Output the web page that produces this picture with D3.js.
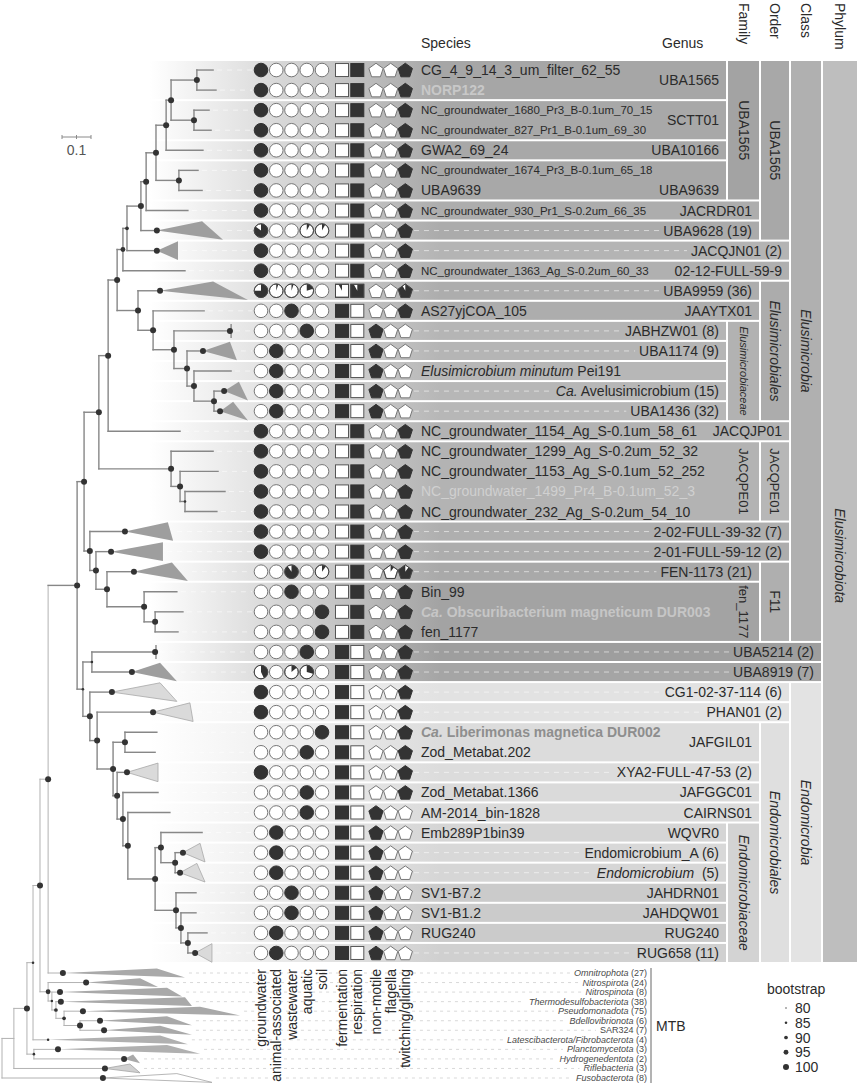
<!DOCTYPE html>
<html><head><meta charset="utf-8">
<script src="https://cdn.jsdelivr.net/npm/d3@7"></script>
<style>body{margin:0;background:#fff}svg{display:block;font-family:"Liberation Sans",Arial,sans-serif}</style>
</head><body><svg id="c" width="858" height="1090"></svg>
<script>
// ---------------- DATA ----------------
const species = [
 "CG_4_9_14_3_um_filter_62_55","NORP122","NC_groundwater_1680_Pr3_B-0.1um_70_15","NC_groundwater_827_Pr1_B-0.1um_69_30",
 "GWA2_69_24","NC_groundwater_1674_Pr3_B-0.1um_65_18","UBA9639","NC_groundwater_930_Pr1_S-0.2um_66_35","","",
 "NC_groundwater_1363_Ag_S-0.2um_60_33","","AS27yjCOA_105","","","*Elusimicrobium minutum* Pei191","","",
 "NC_groundwater_1154_Ag_S-0.1um_58_61","NC_groundwater_1299_Ag_S-0.2um_52_32","NC_groundwater_1153_Ag_S-0.1um_52_252",
 "NC_groundwater_1499_Pr4_B-0.1um_52_3","NC_groundwater_232_Ag_S-0.2um_54_10","","","","Bin_99",
 "*Ca.* Obscuribacterium magneticum DUR003","fen_1177","","","","","*Ca.* Liberimonas magnetica DUR002","Zod_Metabat.202","",
 "Zod_Metabat.1366","AM-2014_bin-1828","Emb289P1bin39","","","SV1-B7.2","SV1-B1.2","RUG240",""];
const genusNames = ["UBA1565","SCTT01","UBA10166","UBA9639","JACRDR01","UBA9628 (19)","JACQJN01 (2)","02-12-FULL-59-9",
 "UBA9959 (36)","JAAYTX01","JABHZW01 (8)","UBA1174 (9)","","*Ca.* Avelusimicrobium (15)","UBA1436 (32)","JACQJP01","",
 "2-02-FULL-39-32 (7)","2-01-FULL-59-12 (2)","FEN-1173 (21)","","UBA5214 (2)","UBA8919 (7)","CG1-02-37-114 (6)","PHAN01 (2)",
 "JAFGIL01","XYA2-FULL-47-53 (2)","JAFGGC01","CAIRNS01","WQVR0","Endomicrobium_A (6)","*Endomicrobium*  (5)","JAHDRN01",
 "JAHDQW01","RUG240","RUG658 (11)"];
// [firstRow, lastRow, labelRow]
const genusSpans = [[0,1],[2,3],[4,4],[5,6,6],[7,7],[8,8],[9,9],[10,10],[11,11],[12,12],[13,13],[14,14],[15,15],[16,16],
 [17,17],[18,18],[19,22],[23,23],[24,24],[25,25],[26,28],[29,29],[30,30],[31,31],[32,32],[33,34],[35,35],[36,36],[37,37],
 [38,38],[39,39],[40,40],[41,41],[42,42],[43,43],[44,44]];
const families = [["UBA1565",0,6],["*Elusimicrobiaceae*",13,17],["JACQPE01",19,22],["fen_1177",26,28],["*Endomicrobiaceae*",38,44]];
const orders = [["UBA1565",0,8],["*Elusimicrobiales*",11,17],["JACQPE01",19,22],["F11",25,28],["*Endomicrobiales*",33,44]];
const classes = [["*Elusimicrobia*",0,28],["*Endomicrobia*",31,44]];
const phyla = [["*Elusimicrobiota*",0,44,24.2]];

const habitatNames = ["groundwater","animal-associated","wastewater","aquatic","soil"];
const metabolismNames = ["fermentation","respiration"];
const motilityNames = ["non-motile","flagella","twitching/gliding"];
const groundwater = [1,1,1,1,1,1,1,1,0.85,1,1,0.75,0,0,0,0,0,0,1,1,1,1,1,1,1,0,0,0,0,0,0.43,1,1,0,0,1,0,0,0,0,0,0,0,0,0];
const animal      = [0,0,0,0,0,0,0,0,0,0,0,0.05,0,0,1,1,1,1,0,0,0,0,0,0,0,0,0,0,0,0,0,0,0,0,0,0,0,0,1,1,1,0,0,1,1];
const wastewater  = [0,0,0,0,0,0,0,0,0,0,0,0.05,1,0,0,0,0,0,0,0,0,0,0,0,0,0.9,1,0,0,0,0.14,0,0,0,0,0,0,0,0,0,0,1,1,0,0];
const aquatic     = [0,0,0,0,0,0,0,0,0.08,0,0,0.2,0,1,0,0,0,0,0,0,0,0,0,0,0,0,0,0,0,1,0.29,0,0,0,1,0,1,1,0,0,0,0,0,0,0];
const soil        = [0,0,0,0,0,0,0,0,0.08,0,0,0,0,0,0,0,0,0,0,0,0,0,0,0,0,0.1,0,1,1,0,0,0,0,1,0,0,0,0,0,0,0,0,0,0,0];
const fermentation= [0,0,0,0,0,0,0,0,0,0,0,0.08,1,1,1,1,1,1,0,0,0,0,0,0,0,0,0,0,0,1,1,1,1,1,1,1,1,1,1,1,1,1,1,1,1];
const respiration = [1,1,1,1,1,1,1,1,1,1,1,0.92,0,0,0,0,0,0,1,1,1,1,1,1,1,1,1,1,1,0,0,0,0,0,0,0,0,0,0,0,0,0,0,0,0];
const nonMotile   = [0,0,0,0,0,0,0,0,0,0,0,0,0,1,1,1,1,1,0,0,0,0,0,0,0,0,0,0,0,0,0,0,0,0,0,0,0,1,1,1,1,1,1,1,1];
const flagella    = [0,0,0,0,0,0,0,0,0,0,0,0,0,0,0,0,0,0,0,0,0,0,0,0,0,0.1,0,0,0,0,0,0,0,0,0,0,0,0,0,0,0,0,0,0,0];
const twitching   = [1,1,1,1,1,1,1,1,1,1,1,0.92,1,0,0,0,0,0,1,1,1,1,1,1,1,0.9,1,1,1,1,1,1,1,1,1,1,1,0,0,0,0,0,0,0,0];

const mtbNames = ["*Omnitrophota* (27)","*Nitrospirota* (24)","*Nitrospinota* (8)","*Thermodesulfobacteriota* (38)",
 "*Pseudomonadota* (75)","*Bdellovibrionota* (6)","SAR324 (7)","*Latescibacterota/Fibrobacterota* (4)",
 "*Planctomycetota* (3)","*Hydrogenedentota* (2)","*Riflebacteria* (3)","*Fusobacterota* (8)"];

// tree: [node, parent, distance from root, bootstrap]
const treeNodes = [
 ["root",null,0,null],["WW","root",0.041,null],["OO","WW",0.086,100],["UU","OO",0.107,85],["VV","OO",0.110,85],
 ["NN","UU",0.131,100],["MM","NN",0.159,100],["PP","NN",0.159,95],["QQ","PP",0.172,85],["RR","QQ",0.186,90],
 ["SS","RR",0.214,90],["TT","SS",0.269,100],["X","MM",0.259,100],["Q","X",0.283,100],["Y2","X",0.279,85],
 ["M","Q",0.334,100],["W","Q",0.303,100],["L","M",0.366,100],["N","M",0.583,100],["D","L",0.397,100],
 ["C","D",0.417,95],["B","C",0.431,90],["A141","B",0.479,100],["A146","A141",0.497,100],["A156","A146",0.531,100],
 ["A166","A156",0.566,100],["A171","A166",0.583,100],["A197","A171",0.672,100],["A194","A171",0.662,100],
 ["A179","A156",0.610,100],["E","D",0.469,100],["F","E",0.521,100],["G","F",0.593,100],["I","G",0.638,100],
 ["J","I",0.662,100],["K","J",0.731,100],["O","N",0.614,100],["P","O",0.631,85],["V","W",0.324,100],
 ["U","V",0.362,100],["T","U",0.490,100],["S","T",0.528,100],["Z","Y2",0.310,85],["AA","Y2",0.303,100],
 ["BB","AA",0.328,100],["CC","BB",0.383,100],["Lib","CC",0.424,100],["DD","CC",0.397,100],["EE","DD",0.417,100],
 ["FF","EE",0.434,100],["GG","FF",0.528,100],["HH","GG",0.548,100],["II","HH",0.597,100],["JJ","GG",0.600,100],
 ["KK","JJ",0.617,100],["LL","KK",0.641,100]];
// leaves: [parent, row, tip distance]
const treeLeaves = [["A197",0,0.728],["A197",1,0.738],["A194",2,0.714],["A194",3,0.721],["A166",4,0.693],["A179",5,0.676],
 ["A179",6,0.690],["A146",7,0.641],["C",10,0.631],["F",12,0.697],["J",15,0.790],["L",18,0.614],["N",19,0.728],
 ["O",20,0.745],["P",21,0.769],["P",22,0.741],["T",26,0.603],["S",27,0.624],["S",28,0.607],["Lib",33,0.534],
 ["Lib",34,0.528],["EE",36,0.538],["FF",37,0.579],["HH",38,0.690],["JJ",41,0.669],["KK",42,0.669],["LL",43,0.707]];
// collapsed clades: [parent, row, node distance, top tip, bottom tip, bootstrap]
const treeClades = [["A141",8,0.534,0.690,0.762,100],["B",9,0.534,0.607,0.607,100],["E",11,0.545,0.728,0.848,100],
 ["G",13,0.786,0.790,0.790,100],["I",14,0.693,0.786,0.810,100],["K",16,0.766,0.817,0.848,100],
 ["K",17,0.752,0.797,0.848,100],["W",23,0.424,0.572,0.590,100],["V",24,0.376,0.555,0.555,100],
 ["U",25,0.455,0.586,0.641,100],["Z",29,0.528,0.531,0.531,100],["Z",30,0.448,0.545,0.603,100],
 ["AA",31,0.379,0.545,0.603,100],["BB",32,0.521,0.648,0.659,100],["DD",35,0.431,0.538,0.538,100],
 ["II",39,0.624,0.683,0.700,100],["II",40,0.614,0.672,0.700,100],["LL",44,0.666,0.724,0.724,100]];
// outgroup (MTB) clades: [parent, index, node distance, top tip, bottom tip, bootstrap]
const mtbClades = [["MM",0,0.210,0.534,0.631,100],["PP",1,0.290,0.476,0.538,100],["QQ",2,0.200,0.569,0.621,100],
 ["RR",3,0.203,0.631,0.655,100],["SS",4,0.279,0.683,0.821,100],["TT",5,0.338,0.569,0.655,100],
 ["TT",6,0.352,0.545,0.655,100],["UU",7,0.159,0.545,0.641,85],["VV",8,0.193,0.569,0.683,100],
 ["VV",9,0.421,0.452,0.476,100],["WW",10,0.355,0.441,0.476,100],["root",11,0.348,0.603,0.724,100]];
const bootstrapLevels = [80,85,90,95,100];

// ---------------- STYLE ----------------
const bandColors = ["#a6a6a6","#a8a8a8","#a8a8a8","#a8a8a8","#adadad","#ababab","#b4b4b4","#b0b0b0","#adadad","#adadad",
 "#b5b5b5","#b5b5b5","#b7b7b7","#b7b7b7","#b7b7b7","#b3b3b3","#b3b3b3","#afafaf","#adadad","#a9a9a9","#a3a3a3",
 "#9e9e9e","#a5a5a5","#e2e2e2","#e2e2e2","#dcdcdc","#dcdcdc","#dadada","#dadada","#d5d5d5","#d8d8d8","#d6d6d6",
 "#cbcbcb","#cbcbcb","#cbcbcb","#d0d0d0"];
const rankColors = {family:["#a3a3a3","#b2b2b2","#b5b5b5","#a3a3a3","#d3d3d3"],
  order:["#a8a8a8","#acacac","#b7b7b7","#afafaf","#dfdfdf"], class:["#b0b0b0","#e3e3e3"], phylum:["#bebebe"]};
const rankFont = {family:[14,11,13,13,14], order:[14,14,13,14,14], class:[14,14], phylum:[14]};
const smallSpecies = new Set([2,3,5,7,10]);
const speciesColor = {1:"#c8c8c8",21:"#d0d0d0",27:"#c6c6c6",33:"#8e8e8e"};
const boldSpecies = new Set([1,27,33]);
const lightClades = new Set([31,32,35,39,40,44]);
const mtbFill = ["#a9a9a9","#a9a9a9","#a9a9a9","#a9a9a9","#a9a9a9","#a9a9a9","#a9a9a9","#b0b0b0","#b0b0b0","#a9a9a9","#d0d0d0","#ffffff"];

// ---------------- LAYOUT ----------------
const svg = d3.select("#c");
const defs = svg.append("defs");
const TXT = "#2b2b2b";
const y = d3.scaleBand().domain(d3.range(species.length)).range([60, 963]);
const yc = i => y(i) + y.bandwidth() / 2;
const x = d3.scaleLinear().domain([0, 1]).range([2, 292]);
const yM = d3.scalePoint().domain(d3.range(mtbNames.length)).range([973, 1078]);
const cols = {genus:[0,727], family:[727,760], order:[760,790], class:[790,822], phylum:[822,858]};
const rankOrder = ["family","order","class","phylum"];
const ranks = {family:families, order:orders, class:classes, phylum:phyla};
const xHab = d3.scalePoint().domain(habitatNames).range([261, 322]);
const xMet = d3.scalePoint().domain(metabolismNames).range([342, 357.3]);
const xMot = d3.scalePoint().domain(motilityNames).range([376, 405.3]);
const rBoot = d3.scaleLinear().domain([80, 100]).range([0.7, 3]);

function rich(sel, str){
  str.split("*").forEach((p,i)=>{ if(p==="") return; const t=sel.append("tspan").text(p); if(i%2) t.attr("font-style","italic"); });
  return sel;
}

// gradients
const uniq = Array.from(new Set(bandColors));
uniq.forEach(c=>{
  const g = defs.append("linearGradient").attr("id","gr"+c.slice(1)).attr("gradientUnits","userSpaceOnUse")
    .attr("x1",150).attr("x2",440).attr("y1",0).attr("y2",0);
  g.append("stop").attr("offset",0).attr("stop-color","#ffffff");
  g.append("stop").attr("offset",1).attr("stop-color",c);
});

// genus extent
function covering(rank, a, b){ return ranks[rank].findIndex(r => r[1] <= a && r[2] >= b); }
const skipFamily = new Set();
const genusExtent = genusSpans.map((s,gi)=>{
  for (const rk of rankOrder){
    const k = covering(rk, s[0], s[1]);
    if (k >= 0){
      const r = ranks[rk][k];
      if (rk==="family" && genusNames[gi]==="" && r[1]===s[0] && r[2]===s[1]) { skipFamily.add(k); return cols.order[0]; }
      return cols[rk][0];
    }
  }
  return 858;
});

const gBands = svg.append("g");
genusSpans.forEach((s,gi)=>{
  gBands.append("rect").attr("x",0).attr("y",y(s[0])+1).attr("width",genusExtent[gi]-1)
    .attr("height",y(s[1])+y.bandwidth()-y(s[0])-2).attr("fill","url(#gr"+bandColors[gi].slice(1)+")");
});
rankOrder.forEach(rk=>{
  ranks[rk].forEach((r,k)=>{
    const [x0,x1] = cols[rk];
    if (!(rk==="family" && skipFamily.has(k)))
      gBands.append("rect").attr("x",x0+1).attr("y",y(r[1])+1).attr("width",x1-x0-2)
        .attr("height",y(r[2])+y.bandwidth()-y(r[1])-2).attr("fill",rankColors[rk][k]);
    const cy = r[3]!=null ? y(0)+ (r[3]+0.5)*y.bandwidth() : (y(r[1])+y(r[2])+y.bandwidth())/2;
    const cx = (x0+x1)/2;
    rich(gBands.append("text").attr("transform",`translate(${cx},${cy}) rotate(90)`).attr("text-anchor","middle")
      .attr("dominant-baseline","central").attr("font-size",rankFont[rk][k]).attr("fill",TXT), r[0]);
  });
});

// headers
const hdr = svg.append("g").attr("fill",TXT).attr("font-size",14);
hdr.append("text").attr("x",421).attr("y",48).text("Species");
hdr.append("text").attr("x",662).attr("y",48).text("Genus");
[["Family","family"],["Order","order"],["Class","class"],["Phylum","phylum"]].forEach(([t,rk])=>{
  hdr.append("text").attr("transform",`translate(${(cols[rk][0]+cols[rk][1])/2},3) rotate(90)`)
    .attr("dominant-baseline","central").text(t);
});

// dashed guide lines + labels
const gDash = svg.append("g").attr("stroke","#ffffff").attr("stroke-opacity",0.55).attr("stroke-dasharray","5,5").attr("stroke-width",1);
const gLab = svg.append("g");
species.forEach((s,i)=>{
  if (s==="") return;
  const t = gLab.append("text").attr("x",421).attr("y",yc(i)).attr("dominant-baseline","central")
    .attr("font-size", smallSpecies.has(i)?11.5:14).attr("fill", speciesColor[i] || TXT)
    .attr("font-weight", boldSpecies.has(i)?"bold":null).style("white-space","pre");
  rich(t, s);
});
genusSpans.forEach((s,gi)=>{
  if (genusNames[gi]==="") return;
  const ly = s[2]!=null ? yc(s[2]) : (y(s[0])+y(s[1])+y.bandwidth())/2;
  const t = gLab.append("text").attr("x",genusExtent[gi]-8).attr("y",ly).attr("text-anchor","end")
    .attr("dominant-baseline","central").attr("font-size",14).attr("fill",TXT).style("white-space","pre");
  rich(t, genusNames[gi]);
  if (s[0]===s[1] && species[s[0]]===""){
    const w = t.node().getComputedTextLength();
    gDash.append("line").attr("x1",414).attr("x2",genusExtent[gi]-8-w-4).attr("y1",ly).attr("y2",ly);
  }
});

// ---------------- TREE ----------------
const nodes = new Map();
treeNodes.forEach(([id,p,d,b])=>nodes.set(id,{id,p,d,b,children:[]}));
treeNodes.forEach(([id,p])=>{ if(p) nodes.get(p).children.push(nodes.get(id)); });
treeLeaves.forEach(([p,row,d])=>nodes.get(p).children.push({leaf:true,row,d,y:yc(row),children:[]}));
treeClades.forEach(([p,row,d,t1,t2,b])=>nodes.get(p).children.push({clade:true,row,d,t1,t2,b,y:yc(row),h:9.3,children:[]}));
mtbClades.forEach(([p,i,d,t1,t2,b])=>nodes.get(p).children.push({clade:true,mtb:i,d,t1,t2,b,y:yM(i),h:4.4,children:[]}));
const root = nodes.get("root");
function setY(n){ if(n.y!=null) return n.y; const ys=n.children.map(setY); n.y=(d3.min(ys)+d3.max(ys))/2; return n.y; }
setY(root);
function mark(n, inner){ n.inner = inner || n.id==="X"; n.children.forEach(c=>{c.parent=n; mark(c, n.inner);}); }
mark(root, false);
const all = []; (function walk(n){ all.push(n); n.children.forEach(walk); })(root);

const gTree = svg.append("g").attr("fill","none").attr("stroke-linecap","square");
const gTri = svg.append("g");
const gDots = svg.append("g").attr("fill","#333");
const gMtbDash = svg.append("g").attr("stroke","#cfcfcf").attr("stroke-dasharray","3,4").attr("stroke-width",0.8);
all.forEach(n=>{
  const col = n.inner ? "#878787" : "#b2b2b2";
  const sw = n.inner ? 1.4 : 1;
  if (n.parent){
    gTree.append("line").attr("x1",x(n.parent.d)).attr("x2",x(n.d)).attr("y1",n.y).attr("y2",n.y).attr("stroke",col).attr("stroke-width",sw);
  }
  if (n.children.length){
    const ys = n.children.map(c=>c.y);
    gTree.append("line").attr("x1",x(n.d)).attr("x2",x(n.d)).attr("y1",d3.min(ys)).attr("y2",d3.max(ys)).attr("stroke",col).attr("stroke-width",sw);
  }
  if (n.leaf){
    gDash.append("line").attr("x1",x(n.d)+4).attr("x2",252).attr("y1",n.y).attr("y2",n.y);
  }
  if (n.clade){
    const pts = [[x(n.d),n.y],[x(n.t1),n.y-n.h],[x(n.t2),n.y+n.h]];
    let fill, stroke=null;
    if (n.mtb!=null){ fill = mtbFill[n.mtb]; if (fill!=="#a9a9a9" && fill!=="#b0b0b0") stroke="#a5a5a5"; }
    else if (lightClades.has(n.row)){ fill="#dadada"; stroke="#a8a8a8"; }
    else { fill="#9e9e9e"; }
    if (Math.abs(pts[1][0]-pts[0][0])<3) {
      gTri.append("line").attr("x1",x(n.t1)).attr("x2",x(n.t2)).attr("y1",n.y-7).attr("y2",n.y+7).attr("stroke","#878787").attr("stroke-width",1.4);
    } else {
      gTri.append("path").attr("d","M"+pts.map(p=>p.join(",")).join("L")+"Z").attr("fill",fill)
        .attr("stroke",stroke).attr("stroke-width",stroke?0.8:null);
    }
    if (n.mtb==null) gDash.append("line").attr("x1",Math.max(x(n.t1),x(n.t2))+4).attr("x2",252).attr("y1",n.y).attr("y2",n.y);
  }
  if (n.b!=null) gDots.append("circle").attr("cx",x(n.d)).attr("cy",n.y).attr("r",rBoot(n.b));
});

// MTB labels
const gM = svg.append("g");
mtbNames.forEach((m,i)=>{
  const t = gM.append("text").attr("x",647).attr("y",yM(i)).attr("text-anchor","end").attr("dominant-baseline","central")
    .attr("font-size",9).attr("fill","#4a4a4a");
  rich(t, m);
  const w = t.node().getComputedTextLength();
  const c = mtbClades[i];
  gMtbDash.append("line").attr("x1",x(Math.max(c[3],c[4]))+4).attr("x2",647-w-4).attr("y1",yM(i)).attr("y2",yM(i));
});
gM.append("line").attr("x1",651).attr("x2",651).attr("y1",yM(0)-5).attr("y2",yM(mtbNames.length-1)+5).attr("stroke","#9a9a9a").attr("stroke-width",1.5);
gM.append("text").attr("x",656).attr("y",(yM(0)+yM(mtbNames.length-1))/2).attr("dominant-baseline","central").attr("font-size",14).attr("fill",TXT).text("MTB");

// scale bar
const sb = svg.append("g").attr("stroke","#8a8a8a").attr("stroke-width",1);
const sx0 = 62, sx1 = sx0 + x(0.1) - x(0);
sb.append("line").attr("x1",sx0).attr("x2",sx1).attr("y1",137).attr("y2",137);
[sx0,(sx0+sx1)/2,sx1].forEach(v=>sb.append("line").attr("x1",v).attr("x2",v).attr("y1",135).attr("y2",139));
svg.append("text").attr("x",(sx0+sx1)/2).attr("y",155).attr("text-anchor","middle").attr("font-size",14).attr("fill","#555").text("0.1");

// ---------------- ICONS ----------------
const R = 6.8, S = 13, P = 7.5;
const pent = d3.range(5).map(k=>{ const a=-Math.PI/2+k*2*Math.PI/5; return [P*Math.cos(a), P*Math.sin(a)+0.7]; });
const pentPath = "M"+pent.map(p=>p.join(",")).join("L")+"Z";
const shapes = {
  circle: g=>g.append("circle").attr("r",R),
  square: g=>g.append("rect").attr("x",-S/2).attr("y",-S/2).attr("width",S).attr("height",S),
  pentagon: g=>g.append("path").attr("d",pentPath)
};
Object.keys(shapes).forEach(k=>shapes[k](defs.append("clipPath").attr("id","clip-"+k)));
const arc = d3.arc().innerRadius(0).outerRadius(14);
const gI = svg.append("g");
function icon(cx, cy, type, a0, a1){
  const g = gI.append("g").attr("transform",`translate(${cx},${cy})`);
  const full = a1 - a0 >= 0.999;
  const strokeCol = type==="square" ? "#555" : "#777";
  shapes[type](g).attr("fill", full ? "#333" : "#fff").attr("stroke", full ? "#333" : strokeCol).attr("stroke-width",1);
  if (!full && a1 - a0 > 0.001){
    g.append("path").attr("d",arc({startAngle:a0*2*Math.PI,endAngle:a1*2*Math.PI})).attr("fill","#333").attr("clip-path",`url(#clip-${type})`);
    shapes[type](g).attr("fill","none").attr("stroke","#444").attr("stroke-width",1);
  }
}
const hab = [groundwater, animal, wastewater, aquatic, soil];
species.forEach((_,i)=>{
  const cy = yc(i);
  habitatNames.forEach((h,k)=>icon(xHab(h), cy, "circle", 0, hab[k][i]));
  const r = respiration[i], f = fermentation[i];
  icon(xMet("fermentation"), cy, "square", r, r+f);
  icon(xMet("respiration"), cy, "square", 0, r);
  const n = nonMotile[i], fl = flagella[i], tw = twitching[i];
  icon(xMot("non-motile"), cy, "pentagon", 0, n);
  icon(xMot("flagella"), cy, "pentagon", n, n+fl);
  icon(xMot("twitching/gliding"), cy, "pentagon", n+fl, n+fl+tw);
});

// column labels
const gC = svg.append("g").attr("font-size",14).attr("fill",TXT);
[[habitatNames,xHab],[metabolismNames,xMet],[motilityNames,xMot]].forEach(([names,sc])=>{
  names.forEach(nm=>gC.append("text").attr("transform",`translate(${sc(nm)},969) rotate(-90)`)
    .attr("text-anchor","end").attr("dominant-baseline","central").text(nm));
});

// bootstrap legend
const gL = svg.append("g").attr("font-size",14).attr("fill",TXT);
gL.append("text").attr("x",767).attr("y",994).text("bootstrap");
const yL = d3.scalePoint().domain(bootstrapLevels).range([1008,1067]);
bootstrapLevels.forEach(b=>{
  gL.append("circle").attr("cx",786).attr("cy",yL(b)).attr("r",rBoot(b)).attr("fill","#333");
  gL.append("text").attr("x",795).attr("y",yL(b)).attr("dominant-baseline","central").text(b);
});
</script></body></html>
